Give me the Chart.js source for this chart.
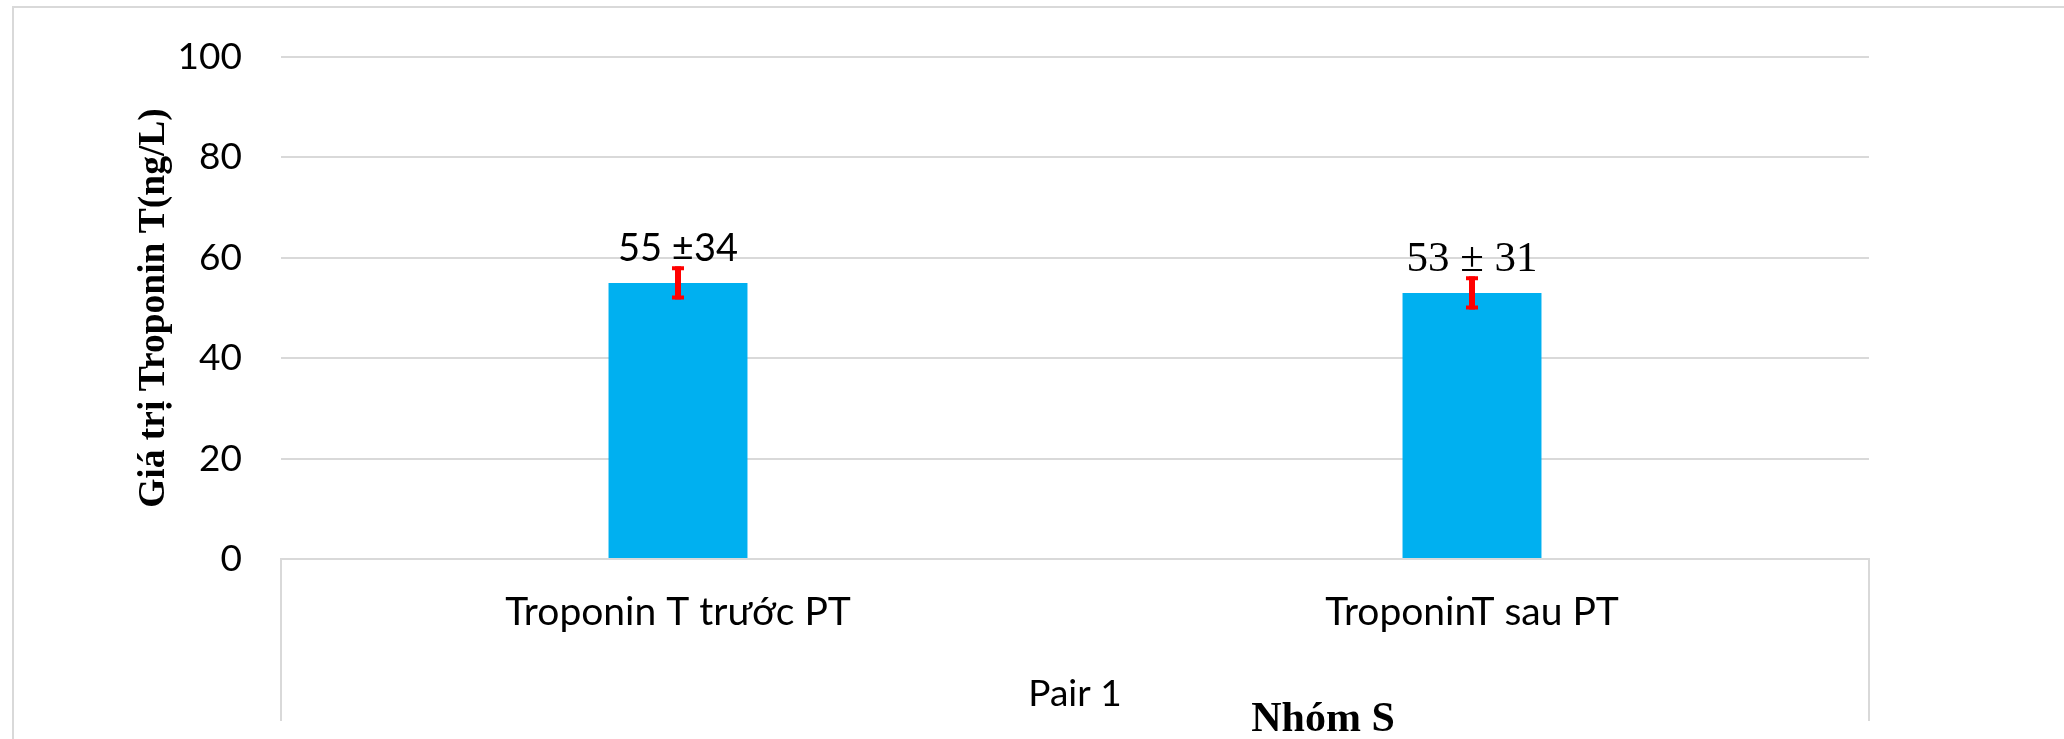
<!DOCTYPE html>
<html>
<head>
<meta charset="utf-8">
<script src="https://cdn.jsdelivr.net/npm/chart.js@4.4.1/dist/chart.umd.min.js"></script>
<style>
  html, body { margin: 0; padding: 0; background: #ffffff; }
  #wrap { position: relative; width: 2064px; height: 739px; }
  canvas { display: block; }
</style>
</head>
<body>
<div id="wrap"><canvas id="c" width="2064" height="739"></canvas></div>
<script>
// ---- data ----
const categories = ["Troponin T trước PT", "TroponinT sau PT"];
const meanValues = [55, 53];
const errorValues = [3.3, 3.3];
const valueLabels = ["55 ±34", "53 ± 31"];
const yTickValues = [0, 20, 40, 60, 80, 100];
const yAxisTitle = "Giá trị Troponin T(ng/L)";
const groupLabel = "Pair 1";
const xAxisTitle = "Nhóm S";

const GRID = '#d9d9d9';

const decorPlugin = {
  id: 'decor',
  beforeDraw(chart) {
    const ctx = chart.ctx;
    ctx.save();
    ctx.strokeStyle = GRID;
    ctx.lineWidth = 2;
    ctx.beginPath();
    ctx.moveTo(13, chart.height);
    ctx.lineTo(13, 7);
    ctx.lineTo(chart.width, 7);
    ctx.stroke();
    ctx.restore();
  },
  afterDraw(chart, args, opts) {
    const ctx = chart.ctx;
    const ca = chart.chartArea;
    const y = chart.scales.y;
    const meta = chart.getDatasetMeta(0);
    ctx.save();
    // category divider lines below the axis
    ctx.strokeStyle = GRID;
    ctx.lineWidth = 2;
    ctx.beginPath();
    ctx.moveTo(ca.left, ca.bottom);
    ctx.lineTo(ca.left, opts.dividerBottom);
    ctx.moveTo(ca.right, ca.bottom);
    ctx.lineTo(ca.right, opts.dividerBottom);
    ctx.stroke();

    // error bars
    ctx.strokeStyle = '#ff0000';
    meta.data.forEach((bar, i) => {
      const v = meanValues[i], e = errorValues[i];
      const yt = y.getPixelForValue(v + e);
      const yb = y.getPixelForValue(v - e);
      ctx.lineWidth = 6;
      ctx.beginPath();
      ctx.moveTo(bar.x, yt);
      ctx.lineTo(bar.x, yb);
      ctx.stroke();
      ctx.lineWidth = 4;
      ctx.beginPath();
      ctx.moveTo(bar.x - 6, yt + 2);
      ctx.lineTo(bar.x + 6, yt + 2);
      ctx.moveTo(bar.x - 6, yb - 2);
      ctx.lineTo(bar.x + 6, yb - 2);
      ctx.stroke();
    });

    // value labels
    ctx.fillStyle = '#000';
    ctx.textAlign = 'center';
    ctx.textBaseline = 'alphabetic';
    meta.data.forEach((bar, i) => {
      ctx.font = opts.labelFonts[i];
      ctx.fillText(valueLabels[i], bar.x, bar.y - 22);
    });

    // group label and x title
    ctx.font = opts.groupFont;
    ctx.fillText(groupLabel, (ca.left + ca.right) / 2, opts.groupBaseline);
    ctx.font = opts.titleFont;
    ctx.fillText(xAxisTitle, (ca.left + ca.right) / 2 + opts.titleShift, opts.titleBaseline);
    ctx.restore();
  }
};

new Chart(document.getElementById('c'), {
  type: 'bar',
  data: {
    labels: categories,
    datasets: [{
      data: meanValues,
      backgroundColor: '#00b0f0',
      borderWidth: 0,
      categoryPercentage: 1.0,
      barPercentage: 0.175
    }]
  },
  options: {
    responsive: false,
    devicePixelRatio: 1,
    animation: false,
    layout: { padding: { left: 0, top: 57, right: 195, bottom: 0 } },
    plugins: {
      legend: { display: false },
      tooltip: { enabled: false },
      decor: {
        dividerBottom: 721,
        labelFonts: ['38px Lato', '43px "Liberation Serif"'],
        groupFont: '37px Lato',
        groupBaseline: 706,
        titleFont: 'bold 42px "Liberation Serif"',
        titleShift: 248,
        titleBaseline: 731
      }
    },
    scales: {
      x: {
        grid: { display: true, drawOnChartArea: false, drawTicks: false, color: 'rgba(0,0,0,0)' },
        border: { display: true, color: GRID, width: 2 },
        ticks: { font: { family: 'Lato', size: 39 }, color: '#000', padding: 30, maxRotation: 0, autoSkip: false },
        afterFit(axis) { axis.height = 180; }
      },
      y: {
        min: yTickValues[0],
        max: yTickValues[yTickValues.length - 1],
        afterBuildTicks(axis) { axis.ticks = yTickValues.map(v => ({ value: v })); },
        grid: { color: GRID, lineWidth: 2, drawTicks: true, tickLength: 39, tickColor: 'rgba(0,0,0,0)' },
        border: { display: false },
        ticks: { font: { family: 'Lato', size: 37 }, color: '#000', padding: 0 },
        title: {
          display: true,
          text: yAxisTitle,
          font: { family: 'Liberation Serif', size: 37.5, weight: 'bold' },
          color: '#000',
          padding: { top: 132, bottom: 0 }
        },
        afterFit(axis) { axis.width = 281; }
      }
    }
  },
  plugins: [decorPlugin]
});
</script>
</body>
</html>
